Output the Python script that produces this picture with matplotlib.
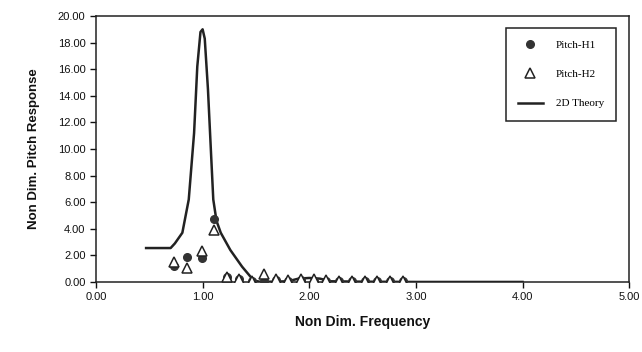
import matplotlib.pyplot as plt

freq = [0.73, 0.85, 0.99, 1.11, 1.23, 1.34, 1.46, 1.58, 1.69, 1.80,
        1.92, 2.04, 2.16, 2.28, 2.40, 2.52, 2.64, 2.76, 2.88]
pitch_h1 = [1.20, 1.85, 1.80, 4.70, 0.40, 0.20, 0.05, 0.10, 0.12, 0.10,
            0.12, 0.10, 0.08, 0.05, 0.05, 0.05, 0.05, 0.04, 0.04]
pitch_h2 = [1.50, 1.05, 2.30, 3.90, 0.35, 0.25, 0.05, 0.60, 0.20, 0.15,
            0.25, 0.20, 0.15, 0.10, 0.08, 0.08, 0.06, 0.05, 0.05]

# 2D theory curve
theory_x = [0.47, 0.70, 0.74, 0.81, 0.87, 0.92, 0.95, 0.98, 1.00, 1.02,
            1.05, 1.08, 1.10, 1.13, 1.17, 1.26, 1.37, 1.48, 1.55, 1.80,
            1.90, 2.00, 2.10, 2.20, 2.50, 3.00, 4.00]
theory_y = [2.55, 2.55, 2.90, 3.70, 6.20, 11.2, 16.2, 18.8, 19.0, 18.3,
            14.5, 9.50, 6.20, 4.60, 3.70, 2.40, 1.15, 0.10, 0.00, 0.05,
            0.25, 0.30, 0.25, 0.05, 0.02, 0.00, 0.00]

fig = plt.figure(figsize=(6.42, 3.52), dpi=100)
ax = fig.add_axes([0.1495, 0.199, 0.8305, 0.7555])

ax.plot(freq, pitch_h1, linestyle="none", marker="o", markersize=5.5,
        color="#333333", label="Pitch-H1", zorder=3)
ax.plot(freq, pitch_h2, linestyle="none", marker="^", markersize=6.5,
        markerfacecolor="white", markeredgecolor="#222222", markeredgewidth=1.1,
        label="Pitch-H2", zorder=4)
ax.plot(theory_x, theory_y, color="#222222", linewidth=1.8,
        label="2D Theory", zorder=2)

ax.set_xlim(0, 5)
ax.set_ylim(0, 20)
ax.set_xticks([0, 1, 2, 3, 4, 5])
ax.set_yticks(range(0, 21, 2))
ax.set_xticklabels([f"{v:.2f}" for v in range(0, 6)])
ax.set_yticklabels([f"{v:.2f}" for v in range(0, 21, 2)])
ax.tick_params(direction="out", length=4, width=1, labelsize=8, colors="#111111")
for s in ax.spines.values():
    s.set_linewidth(1.1)
    s.set_color("#222222")

ax.set_xlabel("Non Dim. Frequency", fontsize=10, fontweight="bold",
              family="Liberation Sans", labelpad=9, color="#111111")
ax.set_ylabel("Non Dim. Pitch Response", fontsize=9.5, fontweight="bold",
              family="Liberation Sans", labelpad=13, color="#111111")
for lbl in ax.get_xticklabels() + ax.get_yticklabels():
    lbl.set_family("Liberation Sans")

leg = ax.legend(loc="upper right", bbox_to_anchor=(0.976, 0.955),
                borderaxespad=0, fancybox=False, edgecolor="#222222",
                framealpha=1, prop={"family": "Liberation Serif", "size": 8},
                handlelength=2.2, borderpad=1.1, labelspacing=1.75,
                handletextpad=1.2)
leg.get_frame().set_linewidth(1.1)

fig.savefig("out.png", dpi=100, facecolor="white")
